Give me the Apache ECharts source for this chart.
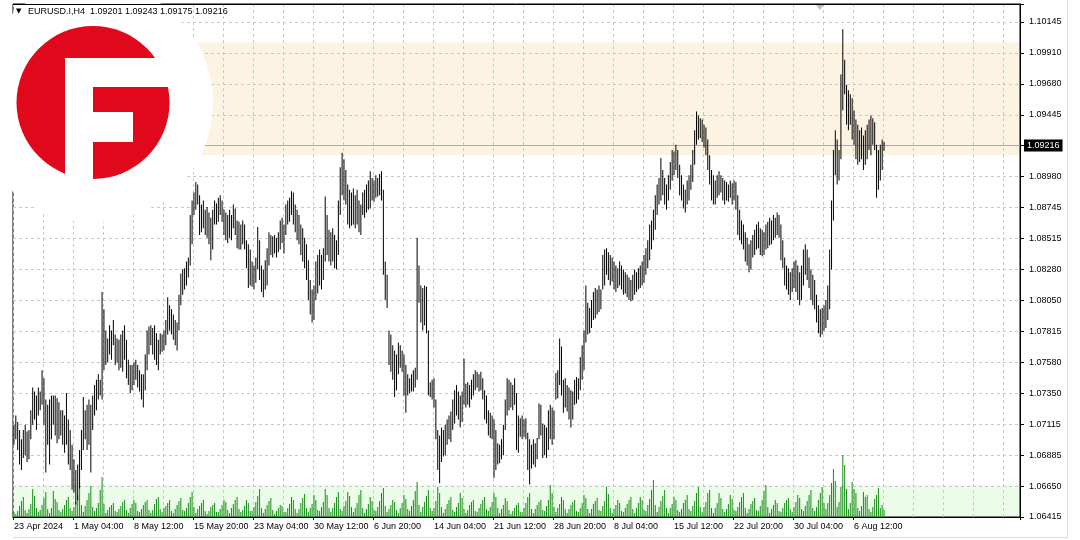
<!DOCTYPE html>
<html><head><meta charset="utf-8">
<script src="https://cdn.jsdelivr.net/npm/echarts@6/dist/echarts.min.js"></script>
<style>html,body{margin:0;padding:0;background:#fff}#c{width:1080px;height:540px}</style>
</head><body><div id="c"></div>
<script>
// ---------- data ----------
const titleText = 'EURUSD.I,H4  1.09201 1.09243 1.09175 1.09216';
const lastPrice = 1.09216;
const yMin = 1.06415, yStep = 0.00233125, yMax = 1.102806;
const yTickLabels = ['1.06415','1.06650','1.06885','1.07115','1.07350','1.07580','1.07815','1.08050','1.08280','1.08515','1.08745','1.08980','1.09215','1.09445','1.09680','1.09910','1.10145'];
const xTickLabels = ['23 Apr 2024','1 May 04:00','8 May 12:00','15 May 20:00','23 May 04:00','30 May 12:00','6 Jun 20:00','14 Jun 04:00','21 Jun 12:00','28 Jun 20:00','8 Jul 04:00','15 Jul 12:00','22 Jul 20:00','30 Jul 04:00','6 Aug 12:00'];
const zoneTops = [1.0999, 1.06655];
const zoneBottoms = [1.0914, 1.06415];
const zoneColors = ['#fcf3e3', '#ebfce8'];

const highs = [
1.0711,1.0718,1.0713,1.0707,1.0700,1.0707,1.0711,1.0706,1.0707,1.0722,1.0739,1.0736,1.0733,1.0739,1.0736,1.0752,
1.0746,1.0730,1.0726,1.0730,1.0733,1.0733,1.0733,1.0731,1.0728,1.0722,1.0722,1.0718,1.0735,1.0715,1.0707,1.0696,
1.0685,1.0677,1.0681,1.0692,1.0707,1.0732,1.0722,1.0726,1.0730,1.0726,1.0733,1.0741,1.0745,1.0749,1.0745,1.0811,
1.0798,1.0782,1.0776,1.0786,1.0782,1.0790,1.0779,1.0776,1.0775,1.0779,1.0782,1.0786,1.0775,1.0760,1.0756,1.0756,
1.0758,1.0760,1.0756,1.0752,1.0749,1.0749,1.0764,1.0782,1.0785,1.0786,1.0784,1.0786,1.0780,1.0775,1.0780,1.0779,
1.0782,1.0790,1.0807,1.0801,1.0798,1.0794,1.0790,1.0788,1.0809,1.0825,1.0828,1.0829,1.0834,1.0837,1.0869,1.0880,
1.0886,1.0894,1.0892,1.0884,1.0877,1.0880,1.0873,1.0875,1.0871,1.0867,1.0873,1.0880,1.0878,1.0882,1.0884,1.0880,
1.0873,1.0871,1.0869,1.0873,1.0869,1.0877,1.0874,1.0865,1.0864,1.0862,1.0865,1.0862,1.0850,1.0847,1.0843,1.0834,
1.0831,1.0837,1.0860,1.0850,1.0831,1.0828,1.0835,1.0844,1.0856,1.0854,1.0853,1.0854,1.0852,1.0856,1.0865,1.0867,
1.0862,1.0877,1.0880,1.0882,1.0887,1.0886,1.0877,1.0873,1.0869,1.0862,1.0859,1.0852,1.0847,1.0835,1.0820,1.0813,
1.0816,1.0834,1.0839,1.0843,1.0839,1.0844,1.0883,1.0869,1.0858,1.0856,1.0859,1.0854,1.0850,1.0880,1.0905,1.0916,
1.0911,1.0903,1.0892,1.0888,1.0886,1.0889,1.0884,1.0888,1.0880,1.0877,1.0886,1.0888,1.0892,1.0895,1.0902,1.0897,
1.0895,1.0899,1.0897,1.0900,1.0902,1.0888,1.0834,1.0824,1.0782,1.0779,1.0771,1.0767,1.0764,1.0773,1.0771,1.0767,
1.0764,1.0756,1.0749,1.0746,1.0749,1.0752,1.0754,1.0852,1.0831,1.0816,1.0814,1.0816,1.0815,1.0782,1.0743,1.0745,
1.0746,1.0730,1.0707,1.0703,1.0709,1.0707,1.0711,1.0715,1.0718,1.0721,1.0730,1.0737,1.0741,1.0736,1.0733,1.0736,
1.0761,1.0742,1.0743,1.0741,1.0745,1.0749,1.0752,1.0751,1.0749,1.0751,1.0746,1.0737,1.0733,1.0722,1.0720,1.0718,
1.0715,1.0707,1.0697,1.0696,1.0700,1.0711,1.0730,1.0746,1.0745,1.0743,1.0741,1.0746,1.0735,1.0718,1.0716,1.0718,
1.0715,1.0716,1.0705,1.0700,1.0696,1.0700,1.0697,1.0701,1.0727,1.0726,1.0712,1.0711,1.0709,1.0722,1.0726,1.0724,
1.0722,1.0750,1.0752,1.0776,1.0770,1.0745,1.0746,1.0741,1.0739,1.0737,1.0736,1.0745,1.0747,1.0746,1.0762,1.0771,
1.0782,1.0816,1.0803,1.0799,1.0805,1.0811,1.0814,1.0813,1.0816,1.0813,1.0839,1.0843,1.0844,1.0841,1.0839,1.0837,
1.0834,1.0831,1.0829,1.0834,1.0831,1.0828,1.0826,1.0824,1.0822,1.0820,1.0824,1.0828,1.0826,1.0829,1.0831,1.0834,
1.0839,1.0844,1.0850,1.0862,1.0865,1.0873,1.0884,1.0892,1.0897,1.0912,1.0903,1.0897,1.0892,1.0899,1.0909,1.0918,
1.0917,1.0922,1.0918,1.0907,1.0899,1.0892,1.0888,1.0895,1.0899,1.0907,1.0918,1.0933,1.0947,1.0944,1.0942,1.0941,
1.0937,1.0935,1.0926,1.0914,1.0903,1.0899,1.0895,1.0899,1.0902,1.0899,1.0897,1.0895,1.0894,1.0892,1.0895,1.0893,
1.0895,1.0894,1.0884,1.0873,1.0865,1.0862,1.0856,1.0852,1.0847,1.0850,1.0854,1.0858,1.0862,1.0864,1.0859,1.0858,
1.0856,1.0862,1.0864,1.0867,1.0865,1.0869,1.0867,1.0871,1.0869,1.0862,1.0850,1.0837,1.0831,1.0829,1.0826,1.0829,
1.0834,1.0835,1.0831,1.0826,1.0831,1.0843,1.0847,1.0843,1.0837,1.0828,1.0824,1.0820,1.0809,1.0801,1.0798,1.0799,
1.0801,1.0805,1.0816,1.0843,1.0880,1.0918,1.0933,1.0926,1.0918,1.0975,1.1009,1.0986,1.0967,1.0963,1.0960,1.0957,
1.0948,1.0941,1.0937,1.0933,1.0935,1.0929,1.0933,1.0937,1.0941,1.0944,1.0942,1.0939,1.0922,1.0918,1.0922,1.0926,
1.09243
];
const lows = [
1.0696,1.0700,1.0692,1.0681,1.0677,1.0686,1.0688,1.0683,1.0685,1.0700,1.0711,1.0715,1.0707,1.0718,1.0722,1.0726,
1.0711,1.0675,1.0696,1.0681,1.0700,1.0711,1.0703,1.0697,1.0700,1.0703,1.0696,1.0690,1.0696,1.0681,1.0677,1.0662,
1.0660,1.0651,1.0654,1.0663,1.0677,1.0692,1.0700,1.0692,1.0696,1.0675,1.0707,1.0718,1.0722,1.0730,1.0733,1.0730,
1.0752,1.0756,1.0758,1.0764,1.0760,1.0771,1.0756,1.0758,1.0752,1.0754,1.0751,1.0760,1.0746,1.0741,1.0735,1.0737,
1.0741,1.0745,1.0739,1.0736,1.0730,1.0724,1.0737,1.0752,1.0764,1.0771,1.0764,1.0760,1.0756,1.0752,1.0764,1.0766,
1.0767,1.0771,1.0779,1.0782,1.0779,1.0775,1.0771,1.0767,1.0782,1.0801,1.0809,1.0813,1.0816,1.0822,1.0831,1.0847,
1.0869,1.0873,1.0877,1.0854,1.0856,1.0859,1.0854,1.0852,1.0847,1.0835,1.0843,1.0862,1.0862,1.0864,1.0869,1.0864,
1.0854,1.0850,1.0848,1.0852,1.0850,1.0859,1.0854,1.0844,1.0843,1.0843,1.0847,1.0843,1.0829,1.0814,1.0816,1.0815,
1.0813,1.0818,1.0828,1.0820,1.0811,1.0807,1.0813,1.0816,1.0831,1.0839,1.0837,1.0840,1.0837,1.0841,1.0843,1.0848,
1.0840,1.0854,1.0862,1.0864,1.0869,1.0862,1.0856,1.0850,1.0847,1.0839,1.0834,1.0829,1.0820,1.0805,1.0794,1.0788,
1.0790,1.0805,1.0810,1.0816,1.0813,1.0820,1.0834,1.0839,1.0834,1.0831,1.0834,1.0829,1.0828,1.0839,1.0869,1.0884,
1.0880,1.0877,1.0862,1.0859,1.0861,1.0862,1.0859,1.0862,1.0856,1.0854,1.0869,1.0867,1.0871,1.0873,1.0874,1.0880,
1.0879,1.0882,1.0883,1.0884,1.0880,1.0824,1.0805,1.0799,1.0756,1.0751,1.0745,1.0732,1.0737,1.0749,1.0754,1.0751,
1.0733,1.0720,1.0733,1.0735,1.0736,1.0736,1.0739,1.0745,1.0803,1.0788,1.0782,1.0786,1.0780,1.0733,1.0732,1.0730,
1.0724,1.0700,1.0677,1.0667,1.0683,1.0687,1.0688,1.0696,1.0700,1.0698,1.0707,1.0712,1.0718,1.0715,1.0709,1.0713,
1.0726,1.0724,1.0726,1.0724,1.0730,1.0733,1.0737,1.0739,1.0736,1.0737,1.0730,1.0715,1.0712,1.0703,1.0701,1.0700,
1.0671,1.0677,1.0681,1.0682,1.0685,1.0688,1.0707,1.0718,1.0722,1.0724,1.0722,1.0726,1.0692,1.0690,1.0702,1.0700,
1.0702,1.0700,1.0677,1.0666,1.0678,1.0681,1.0679,1.0685,1.0700,1.0703,1.0686,1.0688,1.0686,1.0692,1.0700,1.0696,
1.0700,1.0730,1.0731,1.0741,1.0733,1.0720,1.0724,1.0721,1.0715,1.0709,1.0715,1.0726,1.0727,1.0730,1.0737,1.0745,
1.0752,1.0773,1.0779,1.0780,1.0784,1.0790,1.0791,1.0794,1.0796,1.0798,1.0813,1.0816,1.0824,1.0820,1.0816,1.0819,
1.0813,1.0811,1.0814,1.0816,1.0813,1.0809,1.0810,1.0807,1.0805,1.0804,1.0805,1.0809,1.0811,1.0813,1.0814,1.0816,
1.0818,1.0824,1.0829,1.0835,1.0843,1.0850,1.0858,1.0869,1.0877,1.0880,1.0884,1.0877,1.0873,1.0880,1.0888,1.0895,
1.0899,1.0903,1.0897,1.0884,1.0880,1.0874,1.0871,1.0877,1.0880,1.0888,1.0894,1.0907,1.0922,1.0926,1.0927,1.0924,
1.0920,1.0914,1.0903,1.0892,1.0880,1.0877,1.0877,1.0882,1.0884,1.0886,1.0880,1.0877,1.0880,1.0879,1.0882,1.0877,
1.0880,1.0873,1.0854,1.0850,1.0847,1.0843,1.0834,1.0831,1.0826,1.0828,1.0837,1.0839,1.0843,1.0844,1.0839,1.0838,
1.0839,1.0843,1.0844,1.0846,1.0847,1.0850,1.0852,1.0854,1.0852,1.0835,1.0829,1.0816,1.0813,1.0809,1.0805,1.0811,
1.0814,1.0811,1.0805,1.0801,1.0805,1.0816,1.0824,1.0820,1.0814,1.0805,1.0801,1.0798,1.0788,1.0780,1.0777,1.0779,
1.0782,1.0784,1.0790,1.0798,1.0828,1.0865,1.0899,1.0892,1.0895,1.0911,1.0948,1.0960,1.0937,1.0933,1.0937,1.0926,
1.0922,1.0911,1.0907,1.0909,1.0911,1.0903,1.0907,1.0911,1.0918,1.0914,1.0922,1.0918,1.0882,1.0888,1.0895,1.0903,
1.09175
];
const volumes = [
5,
3,6,11,16,20,7, 4,8,13,28,21,9, 5,7,12,19,25,8, 4,9,26,18,15,7, 5,8,12,17,20,9,
6,10,15,22,34,12, 5,11,17,24,31,10, 6,9,14,27,40,13, 4,7,10,12,14,6, 5,8,11,15,17,7,
4,9,13,17,14,6, 5,8,12,15,17,7, 4,7,13,18,20,8, 5,9,11,14,17,6, 4,8,12,16,19,7,
6,9,14,20,25,10, 4,8,11,14,17,6, 3,6,10,12,14,5, 5,8,12,17,15,7, 4,9,13,17,20,8,
5,7,11,17,14,6, 6,10,15,21,28,9, 4,8,12,16,19,7, 3,6,9,12,11,5, 5,9,13,20,17,8,
4,8,14,19,23,9, 5,9,13,22,17,7, 6,10,15,28,22,9, 5,9,14,20,25,8, 6,11,16,25,21,10,
5,9,14,22,27,9, 4,8,13,20,16,7, 6,10,16,24,29,11, 5,8,12,17,15,7, 4,9,14,22,18,8,
6,11,17,26,35,12, 5,10,15,21,27,9, 6,9,16,30,24,10, 4,8,13,17,20,7, 5,10,14,24,19,8,
4,7,12,15,17,6, 5,9,13,17,20,8, 6,10,15,24,20,9, 4,8,12,19,16,7, 3,6,9,12,14,5,
5,9,14,20,24,8, 4,8,12,15,17,7, 6,11,17,32,24,10, 5,9,13,20,17,8, 4,8,12,15,17,6,
5,9,14,22,19,8, 4,8,13,16,19,7, 6,11,16,30,23,9, 4,8,12,17,14,6, 5,9,13,17,20,8,
4,9,14,20,17,7, 6,12,18,27,37,12, 5,10,16,21,27,9, 4,9,13,20,17,7, 5,8,14,17,22,8,
6,11,16,24,30,10, 5,10,15,24,27,9, 4,9,14,24,19,8, 5,8,13,22,18,7, 6,10,15,20,24,9,
4,8,13,16,19,7, 6,11,17,26,32,10, 4,8,12,17,14,6, 5,9,14,17,19,8, 5,10,15,22,19,8,
6,11,16,22,27,9, 6,10,17,24,30,14, 8,14,22,34,48,36, 10,15,30,62,52,28, 8,14,35,28,24,9,
6,11,25,20,22,8, 5,10,18,22,29,9,
12,7
];

// ---------- categories: H4 bars, weekdays only ----------
const totalSlots = 537;
const categories = [];
(function () {
  const mon = ['Jan','Feb','Mar','Apr','May','Jun','Jul','Aug','Sep','Oct','Nov','Dec'];
  let t = Date.UTC(2024, 3, 23, 20);
  while (categories.length < totalSlots) {
    const d = new Date(t);
    const wd = d.getUTCDay();
    if (wd !== 0 && wd !== 6) {
      categories.push(d.getUTCDate() + ' ' + mon[d.getUTCMonth()] + ' ' + String(d.getUTCHours()).padStart(2, '0') + ':00');
    }
    t += 4 * 3600 * 1000;
  }
})();

const priceData = highs.map((h, i) => [i, lows[i], h]);
const volData = volumes.map((v, i) => [i, v]);
const zoneData = zoneTops.map((t, i) => [0, zoneBottoms[i], t]);

const chart = echarts.init(document.getElementById('c'), null, { renderer: 'canvas' });
const FONT = '"Liberation Sans", Arial, sans-serif';
const gridDash = { color: '#c8c8c8', type: [3, 3], width: 1 };

chart.setOption({
  animation: false,
  backgroundColor: '#ffffff',
  grid: { left: 13, right: 60, top: 4, bottom: 23, show: true, borderColor: '#000', borderWidth: 1, backgroundColor: 'transparent' },
  xAxis: {
    type: 'category', data: categories, boundaryGap: true,
    axisLine: { show: true, lineStyle: { color: '#000', width: 1 } },
    axisTick: { show: true, length: 3, interval: (i) => i % 32 === 0 && i <= 448, lineStyle: { color: '#000' } },
    axisLabel: {
      interval: (i) => i % 32 === 0 && i <= 448,
      formatter: (v, i) => xTickLabels[i / 32] || '',
      align: 'left', fontSize: 9, color: '#000', fontFamily: FONT, margin: 5
    },
    splitLine: { show: true, interval: (i) => i % 16 === 0, lineStyle: gridDash }
  },
  yAxis: [{
    type: 'value', position: 'right', min: yMin, max: yMax, interval: yStep, scale: true,
    axisLine: { show: true, lineStyle: { color: '#000', width: 1 } },
    axisTick: { show: true, length: 4, lineStyle: { color: '#000' } },
    axisLabel: {
      fontSize: 9, color: '#000', fontFamily: FONT, margin: 9,
      formatter: (v) => {
        const k = Math.round((v - yMin) / yStep);
        if (Math.abs(v - (yMin + k * yStep)) > 1e-7) return '';
        return yTickLabels[k] || '';
      }
    },
    splitLine: { show: true, lineStyle: gridDash }
  }, {
    type: 'value', min: 0, max: 513, show: false
  }],
  series: [
    {
      name: 'zones', type: 'custom', z: -1, silent: true, data: zoneData,
      encode: { x: 0, y: [1, 2] },
      renderItem: (params, api) => {
        const cs = params.coordSys;
        const yTop = api.coord([0, api.value(2)])[1];
        const yBot = api.coord([0, api.value(1)])[1];
        return { type: 'rect', shape: { x: cs.x, y: yTop, width: cs.width, height: yBot - yTop }, style: { fill: zoneColors[params.dataIndex] } };
      }
    },
    {
      name: 'Volume', type: 'custom', yAxisIndex: 1, silent: true, data: volData,
      encode: { x: 0, y: 1 },
      renderItem: (params, api) => {
        const top = api.coord([api.value(0), api.value(1)]);
        const base = api.coord([api.value(0), 0]);
        return { type: 'rect', shape: { x: top[0] - 0.5, y: top[1], width: 1, height: base[1] - top[1] }, style: { fill: '#168c16' } };
      }
    },
    {
      name: 'Bid', type: 'custom', silent: true, clip: false, data: [[0, lastPrice]],
      encode: { x: 0, y: 1 },
      renderItem: (params, api) => {
        const cs = params.coordSys;
        const y = Math.round(api.coord([0, api.value(1)])[1]) + 0.5;
        return { type: 'group', children: [
          { type: 'line', shape: { x1: cs.x, y1: y, x2: cs.x + cs.width, y2: y }, style: { stroke: '#b4aca0', lineWidth: 1 } },
          { type: 'text', x: cs.x + cs.width + 4, y: y, style: { text: api.value(1).toFixed(5), fill: '#fff', backgroundColor: '#000', padding: [2, 3, 1, 3], fontSize: 9, fontFamily: FONT, verticalAlign: 'middle' } }
        ] };
      }
    },
    {
      name: 'EURUSD', type: 'custom', silent: true, data: priceData,
      encode: { x: 0, y: [1, 2] },
      renderItem: (params, api) => {
        const hi = api.coord([api.value(0), api.value(2)]);
        const lo = api.coord([api.value(0), api.value(1)]);
        return { type: 'rect', shape: { x: hi[0] - 0.5, y: hi[1], width: 1, height: Math.max(1, lo[1] - hi[1]) }, style: { fill: '#000' } };
      }
    }
  ],
  graphic: [
    { type: 'circle', z: 50, silent: true, shape: { cx: 93, cy: 102.5, r: 120 }, style: { fill: '#fff' } },
    { type: 'circle', z: 51, silent: true, shape: { cx: 93, cy: 102.5, r: 76.5 }, style: { fill: '#e2081b' } },
    { type: 'rect', z: 52, silent: true, shape: { x: 65, y: 58, width: 28, height: 126 }, style: { fill: '#fff' } },
    { type: 'rect', z: 52, silent: true, shape: { x: 65, y: 58, width: 112, height: 29 }, style: { fill: '#fff' } },
    { type: 'rect', z: 52, silent: true, shape: { x: 90, y: 112, width: 43, height: 30 }, style: { fill: '#fff' } },
    { type: 'line', z: 60, silent: true, shape: { x1: 13, y1: 4.5, x2: 1020, y2: 4.5 }, style: { stroke: '#000', lineWidth: 1 } },
    { type: 'text', z: 60, silent: true, x: 16, y: 8, style: { text: '▼', fontSize: 7, fill: '#000', fontFamily: '"DejaVu Sans", sans-serif' } },
    { type: 'text', z: 60, silent: true, x: 28, y: 7, style: { text: titleText, fontSize: 9, fill: '#000', fontFamily: FONT } },
    { type: 'polygon', z: 60, silent: true, shape: { points: [[816, 5], [824, 5], [820, 10]] }, style: { fill: '#c0c0c0' } },
    { type: 'line', z: 60, silent: true, shape: { x1: 1067.5, y1: 0, x2: 1067.5, y2: 537.5 }, style: { stroke: '#dcdcdc', lineWidth: 1 } },
    { type: 'line', z: 60, silent: true, shape: { x1: 13, y1: 537.5, x2: 1067.5, y2: 537.5 }, style: { stroke: '#dcdcdc', lineWidth: 1 } }
  ]
});
</script></body></html>
